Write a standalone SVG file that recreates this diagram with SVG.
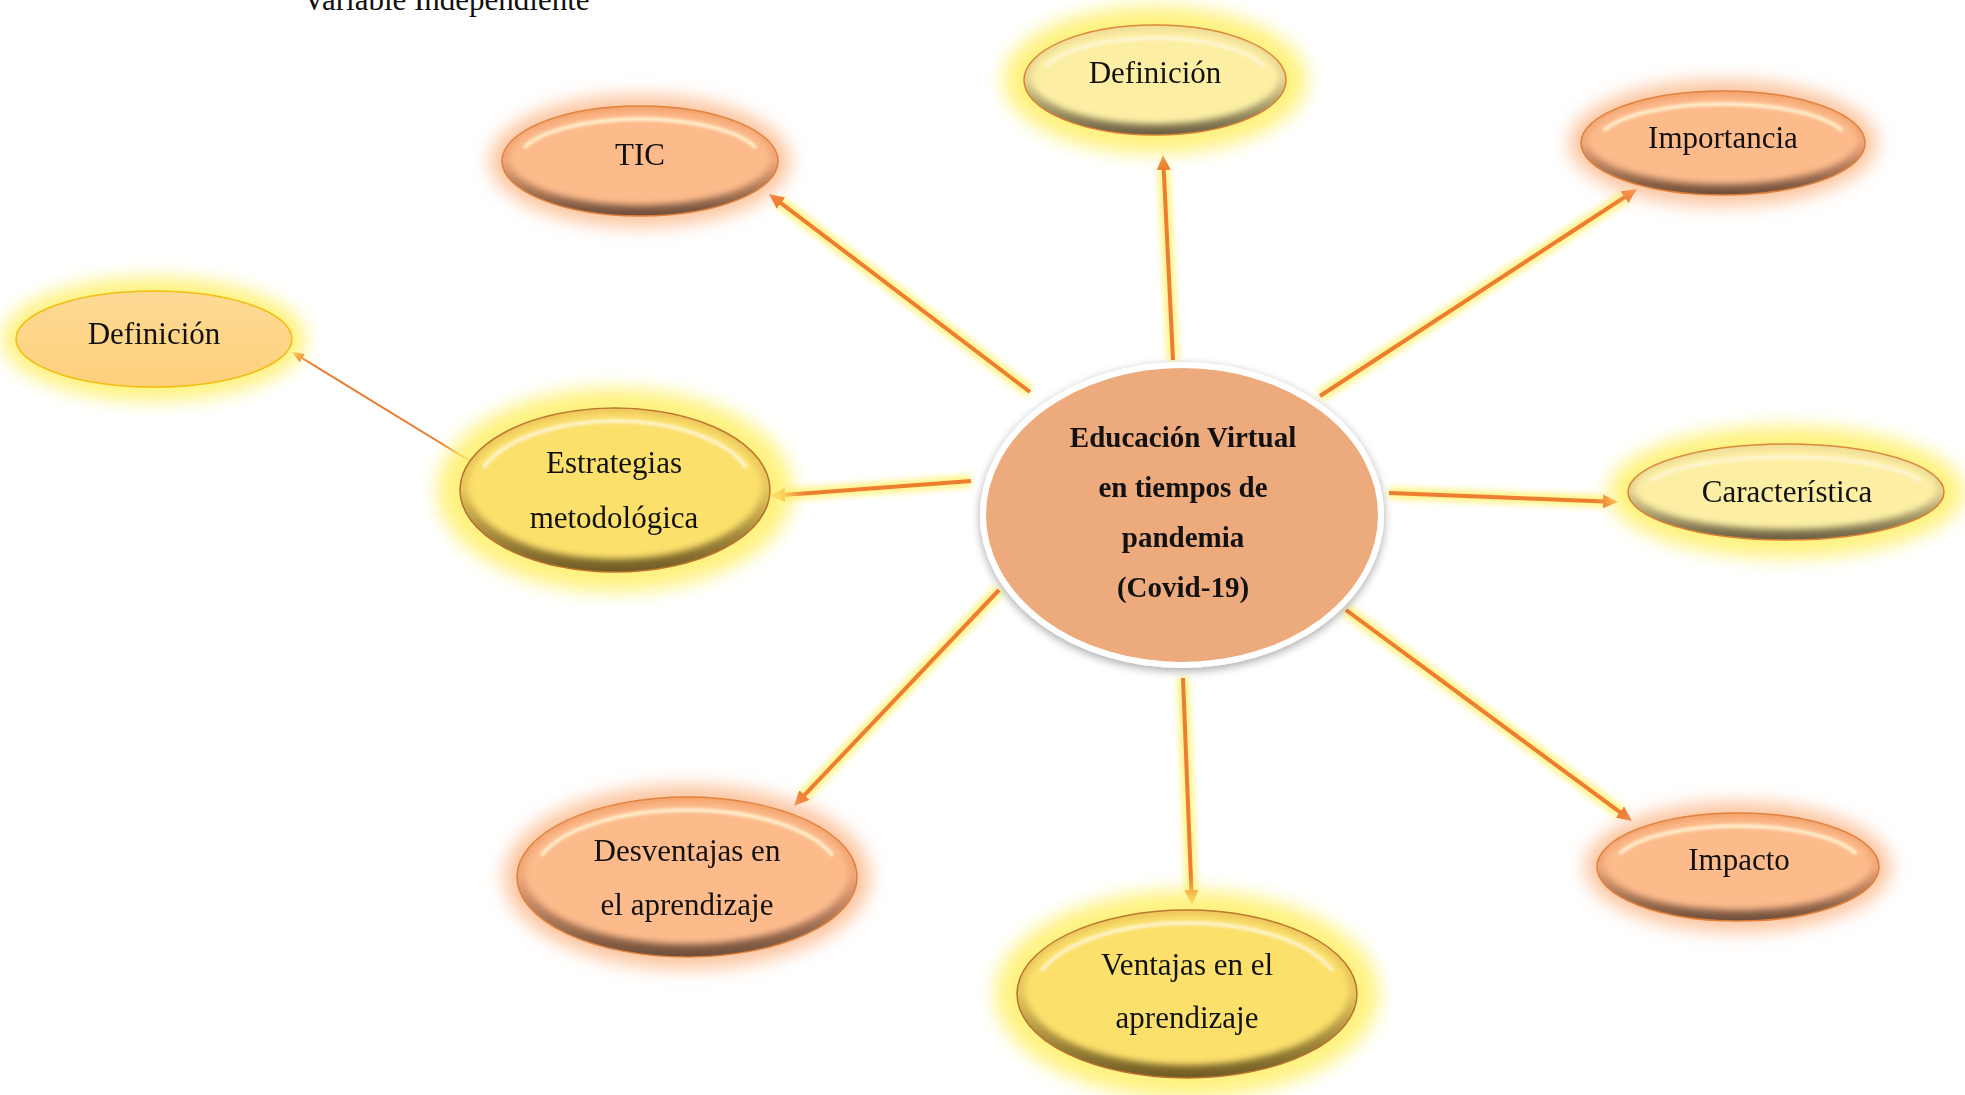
<svg xmlns="http://www.w3.org/2000/svg" width="1965" height="1095" viewBox="0 0 1965 1095">
  <style>
    .lbl { font-family: "Liberation Serif", "Times New Roman", serif; font-size: 31px; fill: #111; text-anchor: middle; }
    .ctr { font-family: "Liberation Serif", "Times New Roman", serif; font-size: 29px; font-weight: bold; fill: #111; text-anchor: middle; }
    .title { font-family: "Liberation Serif", "Times New Roman", serif; font-size: 31px; fill: #111; }
    .gP { fill: #FBB17E; opacity: 0.75; }
    .gY { fill: #FFF06A; opacity: 0.85; }
    .rimP { fill: url(#rimP); stroke: #DE7F3A; stroke-width: 1.5; }
    .rimY { fill: url(#rimY); stroke: #B8722C; stroke-width: 1.5; }
    .rimL { fill: url(#rimL); stroke: #D98035; stroke-width: 1.5; }
    .faceP { fill: #FDBB8C; }
    .faceY { fill: #FBE06C; }
    .faceL { fill: #FCEFA4; }
    .hl { fill: none; stroke: #FFF6D6; stroke-width: 3.5; stroke-linecap: round; }
    .cglow { stroke: #FFF27A; stroke-width: 12; fill: none; opacity: 0.9; }
    .conn { stroke: #ED7D31; stroke-width: 4; fill: none; marker-end: url(#arr); }
    .conn-thin { stroke: #ED7D31; stroke-width: 2; fill: none; marker-end: url(#arrS); }
  </style>
  <defs>
    <linearGradient id="rimP" x1="0" y1="0" x2="0" y2="1">
      <stop offset="0" stop-color="#F4A26B"/>
      <stop offset="0.5" stop-color="#EFA679"/>
      <stop offset="1" stop-color="#6E4E3A"/>
    </linearGradient>
    <linearGradient id="rimY" x1="0" y1="0" x2="0" y2="1">
      <stop offset="0" stop-color="#EDC55A"/>
      <stop offset="0.5" stop-color="#E6C65A"/>
      <stop offset="1" stop-color="#6F5A24"/>
    </linearGradient>
    <linearGradient id="rimL" x1="0" y1="0" x2="0" y2="1">
      <stop offset="0" stop-color="#F2DD95"/>
      <stop offset="0.5" stop-color="#E2D290"/>
      <stop offset="1" stop-color="#6A5F42"/>
    </linearGradient>
    <linearGradient id="flatDef" x1="0" y1="0" x2="0" y2="1">
      <stop offset="0" stop-color="#FDDA95"/>
      <stop offset="1" stop-color="#FFD07C"/>
    </linearGradient>
    <filter id="soft" x="-30%" y="-50%" width="160%" height="200%">
      <feGaussianBlur stdDeviation="9"/>
    </filter>
    <filter id="soft2" x="-20%" y="-30%" width="140%" height="160%">
      <feGaussianBlur stdDeviation="3"/>
    </filter>
    <filter id="soft1" x="-10%" y="-50%" width="120%" height="200%">
      <feGaussianBlur stdDeviation="1.5"/>
    </filter>
    <filter id="lineGlow" x="-20%" y="-20%" width="140%" height="140%">
      <feGaussianBlur stdDeviation="3"/>
    </filter>
    <filter id="shadow" x="-10%" y="-10%" width="120%" height="125%">
      <feGaussianBlur in="SourceAlpha" stdDeviation="5"/>
      <feOffset dx="0" dy="3" result="o"/>
      <feComponentTransfer><feFuncA type="linear" slope="0.35"/></feComponentTransfer>
      <feMerge><feMergeNode/><feMergeNode in="SourceGraphic"/></feMerge>
    </filter>
    <marker id="arr" markerUnits="userSpaceOnUse" markerWidth="16" markerHeight="14" refX="3" refY="7" orient="auto">
      <path d="M0,0 L15,7 L0,14 z" fill="#ED7D31"/>
    </marker>
    <marker id="arrS" markerUnits="userSpaceOnUse" markerWidth="13" markerHeight="10" refX="3" refY="5" orient="auto">
      <path d="M0,0 L12,5 L0,10 z" fill="#ED7D31"/>
    </marker>
  </defs>

  <rect width="1965" height="1095" fill="#FFFFFF"/>

  <text class="title" x="303" y="10">Variable Independiente</text>

  <g id="connectors">
    <g filter="url(#lineGlow)">
      <path class="cglow" d="M1030,392 L778.6,201.3"/>
      <path class="cglow" d="M1173,360 L1163.6,167"/>
      <path class="cglow" d="M1320,396 L1627,195.6"/>
      <path class="cglow" d="M1389,493 L1606,501.5"/>
      <path class="cglow" d="M1346,610 L1622.3,813.9"/>
      <path class="cglow" d="M1183,678 L1191.5,893"/>
      <path class="cglow" d="M999,590 L802.3,797.3"/>
      <path class="cglow" d="M971,481 L782,495.1"/>
    </g>
    <path class="conn" d="M1030,392 L778.6,201.3"/>
    <path class="conn" d="M1173,360 L1163.6,167"/>
    <path class="conn" d="M1320,396 L1627,195.6"/>
    <path class="conn" d="M1389,493 L1606,501.5"/>
    <path class="conn" d="M1346,610 L1622.3,813.9"/>
    <path class="conn" d="M1183,678 L1191.5,893"/>
    <path class="conn" d="M999,590 L802.3,797.3"/>
    <path class="conn" d="M971,481 L782,495.1"/>
    <path class="conn-thin" d="M470,461 L299.7,356.7"/>
  </g>

  <g id="n-central">
    <ellipse cx="1182" cy="515" rx="199" ry="150" fill="#EDAA7D" stroke="#FFFFFF" stroke-width="6" filter="url(#shadow)"/>
    <text class="ctr" x="1183" y="447">Educación Virtual</text>
    <text class="ctr" x="1183" y="497">en tiempos de</text>
    <text class="ctr" x="1183" y="547">pandemia</text>
    <text class="ctr" x="1183" y="597">(Covid-19)</text>
  </g>

  <g id="n-tic">
    <ellipse class="gP" cx="640" cy="161" rx="150" ry="66" filter="url(#soft)"/>
    <ellipse class="rimP" cx="640" cy="161" rx="138" ry="55"/>
    <ellipse class="faceP" cx="640" cy="158" rx="131" ry="47" filter="url(#soft2)"/>
    <path class="hl" d="M525.4,146.6 A122,42 0 0 1 754.6,146.6" filter="url(#soft1)"/>
    <text class="lbl" x="640" y="165">TIC</text>
  </g>

  <g id="n-def-top">
    <ellipse class="gY" cx="1155" cy="80" rx="152" ry="74" filter="url(#soft)"/>
    <ellipse class="rimL" cx="1155" cy="80" rx="131" ry="55"/>
    <ellipse class="faceL" cx="1155" cy="77" rx="124" ry="47" filter="url(#soft2)"/>
    <path class="hl" d="M1046.9,65.6 A115,42 0 0 1 1263.1,65.6" filter="url(#soft1)"/>
    <text class="lbl" x="1155" y="83">Definición</text>
  </g>

  <g id="n-importancia">
    <ellipse class="gP" cx="1723" cy="143" rx="154" ry="63" filter="url(#soft)"/>
    <ellipse class="rimP" cx="1723" cy="143" rx="142" ry="52"/>
    <ellipse class="faceP" cx="1723" cy="140" rx="135" ry="44" filter="url(#soft2)"/>
    <path class="hl" d="M1604.6,129.7 A126,39 0 0 1 1841.4,129.7" filter="url(#soft1)"/>
    <text class="lbl" x="1723" y="148">Importancia</text>
  </g>

  <g id="n-caracteristica">
    <ellipse class="gY" cx="1786" cy="492" rx="178" ry="66" filter="url(#soft)"/>
    <ellipse class="rimL" cx="1786" cy="492" rx="158" ry="48"/>
    <ellipse class="faceL" cx="1786" cy="489" rx="151" ry="40" filter="url(#soft2)"/>
    <path class="hl" d="M1652.6,480 A142,35 0 0 1 1919.4,480" filter="url(#soft1)"/>
    <text class="lbl" x="1787" y="502">Característica</text>
  </g>

  <g id="n-impacto">
    <ellipse class="gP" cx="1738" cy="867" rx="153" ry="65" filter="url(#soft)"/>
    <ellipse class="rimP" cx="1738" cy="867" rx="141" ry="54"/>
    <ellipse class="faceP" cx="1738" cy="864" rx="134" ry="46" filter="url(#soft2)"/>
    <path class="hl" d="M1620.5,853 A125,41 0 0 1 1855.5,853" filter="url(#soft1)"/>
    <text class="lbl" x="1739" y="870">Impacto</text>
  </g>

  <g id="n-ventajas">
    <ellipse class="gY" cx="1187" cy="994" rx="192" ry="104" filter="url(#soft)"/>
    <ellipse class="rimY" cx="1187" cy="994" rx="170" ry="84"/>
    <ellipse class="faceY" cx="1187" cy="990" rx="162" ry="75" filter="url(#soft2)"/>
    <path class="hl" d="M1042.3,969.7 A154,71 0 0 1 1331.7,969.7" filter="url(#soft1)"/>
    <text class="lbl" x="1187" y="975">Ventajas en el</text>
    <text class="lbl" x="1187" y="1028">aprendizaje</text>
  </g>

  <g id="n-desventajas">
    <ellipse class="gP" cx="687" cy="877" rx="183" ry="92" filter="url(#soft)"/>
    <ellipse class="rimP" cx="687" cy="877" rx="170" ry="80"/>
    <ellipse class="faceP" cx="687" cy="873" rx="162" ry="71" filter="url(#soft2)"/>
    <path class="hl" d="M542.3,854.1 A154,67 0 0 1 831.7,854.1" filter="url(#soft1)"/>
    <text class="lbl" x="687" y="861">Desventajas en</text>
    <text class="lbl" x="687" y="915">el aprendizaje</text>
  </g>

  <g id="n-estrategias">
    <ellipse class="gY" cx="615" cy="490" rx="178" ry="102" filter="url(#soft)"/>
    <ellipse class="rimY" cx="615" cy="490" rx="155" ry="82"/>
    <ellipse class="faceY" cx="615" cy="486" rx="147" ry="73" filter="url(#soft2)"/>
    <path class="hl" d="M484.4,466.4 A139,69 0 0 1 745.6,466.4" filter="url(#soft1)"/>
    <text class="lbl" x="614" y="473">Estrategias</text>
    <text class="lbl" x="614" y="528">metodológica</text>
  </g>

  <g id="n-def-left">
    <ellipse class="gY" cx="154" cy="339" rx="152" ry="62" filter="url(#soft)"/>
    <ellipse cx="154" cy="339" rx="138" ry="48" fill="url(#flatDef)" stroke="#F2BE12" stroke-width="1.5"/>
    <text class="lbl" x="154" y="344">Definición</text>
  </g>
</svg>
